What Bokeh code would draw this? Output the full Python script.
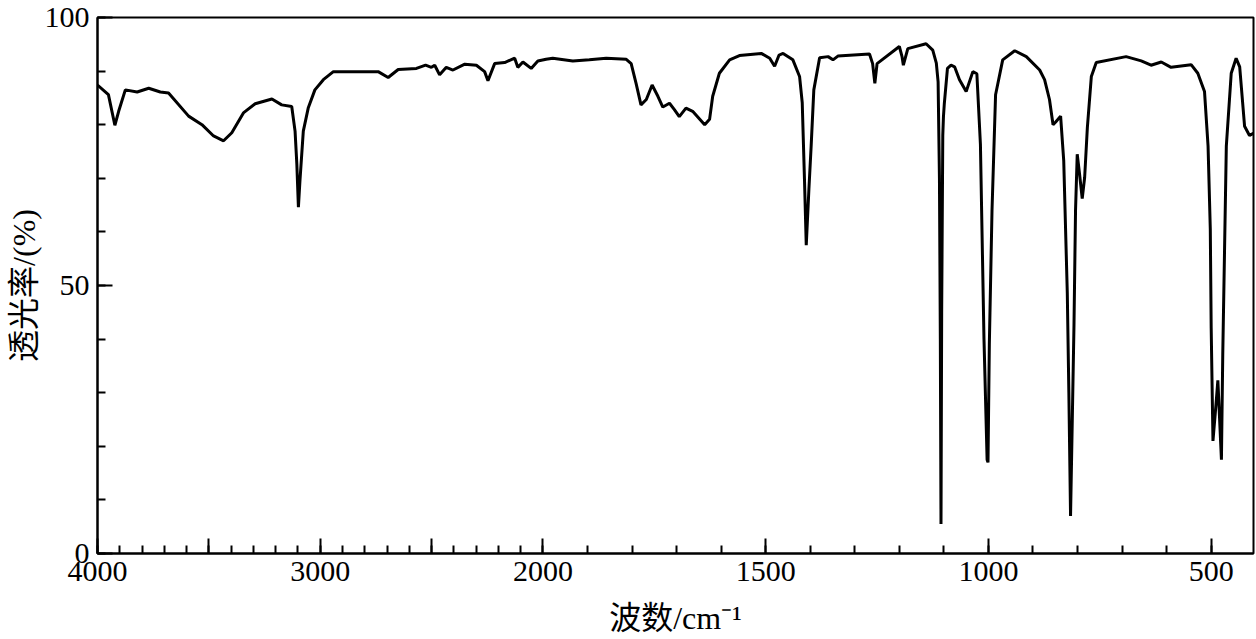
from bokeh.plotting import figure
from bokeh.models import Range1d, FixedTicker, ColumnDataSource
from bokeh.embed import file_html
from bokeh.resources import INLINE

# IR spectrum (wavenumber in cm^-1, transmittance in %)
wavenumber = [
    4000, 3951, 3922, 3905, 3875, 3822, 3770, 3718, 3681, 3591, 3531, 3479, 3434, 3397,
    3345, 3292, 3217, 3173, 3128, 3113, 3105, 3098, 3091, 3076, 3054, 3024, 2986, 2941,
    2740, 2695, 2650, 2568, 2527, 2501, 2486, 2464, 2434, 2404, 2351, 2299, 2262, 2247,
    2217, 2172, 2127, 2113, 2090, 2053, 2023, 1993, 1978, 1933, 1896, 1858, 1813, 1802,
    1791, 1780, 1768, 1755, 1742, 1731, 1716, 1705, 1694, 1679, 1664, 1637, 1626, 1619,
    1604, 1581, 1559, 1510, 1491, 1480, 1470, 1461, 1439, 1424, 1418, 1413, 1409, 1403,
    1398, 1392, 1379, 1360, 1349, 1338, 1267, 1260, 1255, 1250, 1200, 1194, 1191, 1181,
    1140, 1125, 1117, 1113, 1110, 1108, 1106.5, 1105, 1102.5, 1101, 1099, 1092, 1084,
    1076, 1065, 1050, 1035, 1026, 1018, 1010, 1003, 1001, 998, 992, 984, 968, 941,
    915, 885, 874, 863, 855, 849, 838, 831, 823, 819.5, 815.7, 812, 808, 804.5, 800.7,
    795.5, 789.5, 784, 778, 769, 758, 691, 657, 635, 612, 590, 545, 530, 515, 507, 502,
    500, 496, 489, 485, 477, 474, 466, 455, 444, 436, 425, 414, 403,
]
transmittance = [
    87.4, 85.6, 79.9, 82.5, 86.5, 86.1, 86.8, 86.1, 85.9, 81.6, 80.0, 77.9, 77.0, 78.5,
    82.2, 83.9, 84.8, 83.7, 83.4, 78.8, 72.6, 64.6, 69.6, 78.8, 83.1, 86.5, 88.4, 89.9,
    89.9, 88.8, 90.3, 90.5, 91.1, 90.7, 91.1, 89.3, 90.7, 90.2, 91.3, 91.1, 89.9, 88.2,
    91.4, 91.6, 92.4, 90.7, 91.7, 90.5, 91.9, 92.2, 92.4, 91.9, 92.1, 92.4, 92.2, 91.4,
    87.7, 83.7, 84.7, 87.4, 85.3, 83.3, 84.0, 82.8, 81.5, 83.1, 82.5, 80.0, 81.0, 85.3,
    89.6, 92.1, 92.9, 93.3, 92.4, 90.9, 93.0, 93.3, 92.1, 89.0, 84.1, 69.9, 57.5, 68.0,
    76.0, 86.5, 92.5, 92.7, 92.1, 92.8, 93.2, 91.4, 87.7, 91.4, 94.6, 92.7, 91.1, 94.2,
    95.1, 93.9, 91.5, 88.0, 70.0, 40.0, 5.5, 45.0, 78.0, 81.5, 84.0, 90.5, 91.1,
    90.8, 88.4, 86.2, 89.9, 89.5, 76.3, 40.0, 17.5, 17.0, 39.0, 64.0, 85.6, 92.1, 93.8,
    92.7, 90.2, 88.4, 84.7, 80.0, 80.5, 81.6, 73.3, 48.6, 30.1, 7.0, 24.0, 42.5, 64.0, 74.5,
    70.8, 66.2, 70.2, 79.4, 89.0, 91.6, 92.7, 91.9, 91.1, 91.7, 90.7, 91.2, 89.6, 86.2, 76.0, 60.6,
    42.1, 21.0, 28.0, 32.3, 17.5, 37.2, 76.0, 89.6, 92.4, 90.8, 79.7, 78.0, 78.5,
]

x_major_wn = [4000, 3500, 3000, 2500, 2000, 1500, 1000, 500]
x_major_labels = ["4000", "", "3000", "", "2000", "1500", "1000", "500"]
x_minor_wn = list(range(4000, 399, -100))
y_major = [0, 50, 100]
y_major_labels = ["0", "50", "100"]
y_minor = list(range(0, 101, 10))


def axis_pos(w):
    # broken wavenumber axis: scale is compressed by half above 2000 cm^-1
    return w if w <= 2000 else 2000 + (w - 2000) / 2


src = ColumnDataSource(dict(x=[axis_pos(w) for w in wavenumber], y=transmittance))

p = figure(width=1256, height=639, output_backend="svg", toolbar_location=None,
           x_range=Range1d(axis_pos(4000), 405), y_range=Range1d(0, 100),
           min_border_left=97, min_border_right=3, min_border_top=17, min_border_bottom=86)
p.background_fill_color = "white"
p.border_fill_color = "white"
p.xgrid.visible = False
p.ygrid.visible = False
p.outline_line_color = "black"
p.outline_line_width = 2
p.outline_line_alpha = 1

p.line("x", "y", source=src, line_color="black", line_width=3)

x_ticks = [int(axis_pos(w)) for w in x_major_wn]
p.xaxis.ticker = FixedTicker(ticks=x_ticks, minor_ticks=[int(axis_pos(w)) for w in x_minor_wn])
p.xaxis.major_label_overrides = {t: lab for t, lab in zip(x_ticks, x_major_labels)}
p.yaxis.ticker = FixedTicker(ticks=y_major, minor_ticks=y_minor)
p.yaxis.major_label_overrides = {t: lab for t, lab in zip(y_major, y_major_labels)}

for ax in (p.xaxis[0], p.yaxis[0]):
    ax.axis_line_color = "black"
    ax.axis_line_width = 2
    ax.major_tick_line_color = "black"
    ax.major_tick_line_width = 2
    ax.minor_tick_line_color = "black"
    ax.minor_tick_line_width = 2
    ax.major_tick_in = 15
    ax.major_tick_out = 0
    ax.minor_tick_in = 8
    ax.minor_tick_out = 0
    ax.major_label_text_font = "Liberation Serif"
    ax.major_label_text_font_size = "30px"
    ax.major_label_text_color = "black"
    ax.axis_label_text_font = "'Liberation Serif', 'Noto Sans CJK SC'"
    ax.axis_label_text_font_size = "32px"
    ax.axis_label_text_font_style = "normal"
    ax.axis_label_text_color = "black"

p.xaxis.axis_label = "波数/cm⁻¹"
p.yaxis.axis_label = "透光率/(%)"
p.xaxis.major_label_standoff = 8
p.yaxis.major_label_standoff = 8
p.xaxis.axis_label_standoff = 16
p.yaxis.axis_label_standoff = 0

open("out.html", "w").write(file_html(p, INLINE))
